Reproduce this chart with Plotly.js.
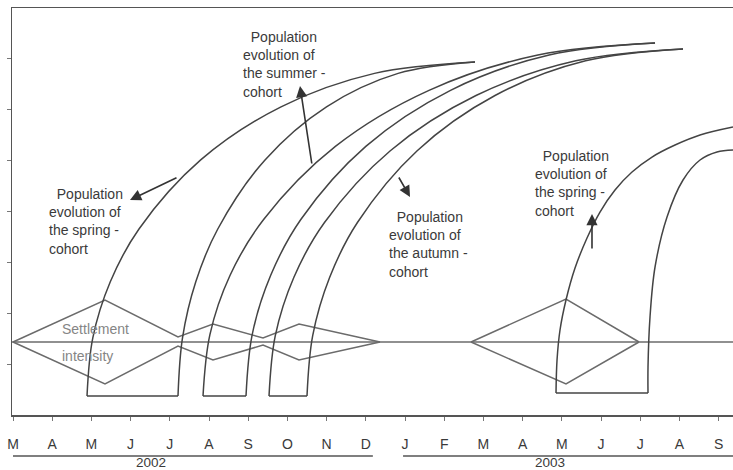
<!DOCTYPE html>
<html>
<head>
<meta charset="utf-8">
<script src="https://cdn.plot.ly/plotly-3.0.1.min.js"></script>
<style>
  html, body { margin: 0; padding: 0; background: #ffffff; }
  #chart { width: 733px; height: 470px; }
</style>
</head>
<body>
<div id="chart"></div>
<script>
// ---- Data (x = months since March 2002, y = relative population / intensity) ----
const monthTickVals = [0,1,2,3,4,5,6,7,8,9,10,11,12,13,14,15,16,17,18];
const monthTickText = ['M','A','M','J','J','A','S','O','N','D','J','F','M','A','M','J','J','A','S'];
const yearLabels = ['2002', '2003'];

// Settlement intensity (upper and mirrored lower outline), 2002
const settle2002X     = [0.00, 2.347, 4.209, 5.102, 6.378, 7.296, 9.362];
const settle2002Upper = [1.435, 2.260, 1.533, 1.789, 1.514, 1.789, 1.435];
const settle2002Lower = [1.435, 0.609, 1.356, 1.081, 1.376, 1.081, 1.435];
// Settlement intensity, 2003
const settle2003X     = [11.684, 14.107, 15.969];
const settle2003Upper = [1.435, 2.280, 1.435];
const settle2003Lower = [1.435, 0.609, 1.435];
// Base line
const baseX = [-0.03, 18.37];
const baseY = [1.435, 1.435];

// Spring cohort 2002
const spring02LeftX  = [1.888, 2.036, 2.482, 3.214, 4.788, 6.837, 9.222, 11.786];
const spring02RightX = [4.209, 4.324, 4.663, 5.224, 6.429, 7.997, 9.824, 11.786];
const spring02Y      = [0.373, 1.515, 2.618, 3.656, 5.014, 6.058, 6.715, 6.939];
// Summer cohort 2002
const summerLeftX  = [4.847, 5.023, 5.538, 6.393, 8.224, 10.612, 13.390, 16.378];
const summerRightX = [5.944, 6.102, 6.574, 7.342, 9.000, 11.161, 13.676, 16.378];
const summerY      = [0.373, 1.580, 2.746, 3.843, 5.280, 6.382, 7.076, 7.312];
// Autumn cohort 2002
const autumnLeftX  = [6.531, 6.691, 7.166, 7.946, 9.625, 11.811, 14.357, 17.092];
const autumnRightX = [7.500, 7.645, 8.079, 8.786, 10.311, 12.296, 14.607, 17.092];
const autumnY      = [0.373, 1.559, 2.707, 3.784, 5.195, 6.280, 6.962, 7.194];
// Spring cohort 2003
const spring03LeftX  = [13.852, 13.878, 13.954, 14.107, 14.337, 14.643, 14.974, 15.357, 15.791, 16.301, 16.888, 17.526, 18.367];
const spring03LeftY  = [0.432, 1.081, 1.671, 2.260, 2.889, 3.479, 3.990, 4.423, 4.776, 5.071, 5.307, 5.504, 5.661];
const spring03RightX = [16.199, 16.199, 16.250, 16.378, 16.684, 17.092, 17.526, 17.959, 18.367];
const spring03RightY = [0.432, 0.943, 1.926, 2.909, 3.892, 4.619, 5.012, 5.170, 5.209];

// Cohort bases (settlement windows)
const cohortBaseX = [[1.888, 4.209], [4.847, 5.944], [6.531, 7.500], [13.852, 16.199]];
const cohortBaseY = [[0.373, 0.373], [0.373, 0.373], [0.373, 0.373], [0.432, 0.432]];

// ---- Styles ----
const arcColor = '#444444';
const diaColor = '#6b6b6b';
const textColor = '#3a3a3a';
const fontFam = 'Liberation Sans, Arial, Helvetica, sans-serif';

const traces = [];
function line(x, y, color, shape, name) {
  traces.push({
    type: 'scatter', mode: 'lines', x: x, y: y, name: name,
    line: {color: color, width: 1.5, shape: shape, smoothing: 1},
    hoverinfo: 'skip', showlegend: false
  });
}
line(baseX, baseY, diaColor, 'linear', 'base');
line(settle2002X, settle2002Upper, diaColor, 'linear', 'settle02u');
line(settle2002X, settle2002Lower, diaColor, 'linear', 'settle02l');
line(settle2003X, settle2003Upper, diaColor, 'linear', 'settle03u');
line(settle2003X, settle2003Lower, diaColor, 'linear', 'settle03l');

line(spring02LeftX, spring02Y, arcColor, 'spline', 'spring02L');
line(spring02RightX, spring02Y, arcColor, 'spline', 'spring02R');
line(summerLeftX, summerY, arcColor, 'spline', 'summerL');
line(summerRightX, summerY, arcColor, 'spline', 'summerR');
line(autumnLeftX, autumnY, arcColor, 'spline', 'autumnL');
line(autumnRightX, autumnY, arcColor, 'spline', 'autumnR');
line(spring03LeftX, spring03LeftY, arcColor, 'spline', 'spring03L');
line(spring03RightX, spring03RightY, arcColor, 'spline', 'spring03R');
for (let i = 0; i < cohortBaseX.length; i++) {
  line(cohortBaseX[i], cohortBaseY[i], arcColor, 'linear', 'base' + i);
}

const yearFont = {family: fontFam, size: 13.5, color: textColor};
function label(x, y, text, color) {
  return {x: x, y: y, xref: 'x', yref: 'y', text: text, showarrow: false,
          xanchor: 'left', yanchor: 'middle', align: 'left',
          font: {family: fontFam, size: 14, color: color || textColor}};
}
function arrow(xh, yh, xt, yt) {
  return {x: xh, y: yh, ax: xt, ay: yt, xref: 'x', yref: 'y', axref: 'x', ayref: 'y',
          text: '', showarrow: true, arrowhead: 2, arrowsize: 1.4, arrowwidth: 1.6,
          arrowcolor: '#333333', standoff: 0, startstandoff: 0};
}
const nb = '\u00a0\u00a0';
const annotations = [
  label(0.867, 3.794, nb + 'Population<br>evolution of<br>the spring -<br>cohort'),
  label(5.816, 6.894, nb + 'Population<br>evolution of<br>the summer -<br>cohort'),
  label(9.541, 3.361, nb + 'Population<br>evolution of<br>the autumn -<br>cohort'),
  label(13.265, 4.560, nb + 'Population<br>evolution of<br>the spring -<br>cohort'),
  label(1.199, 1.690, 'Settlement', '#858585'),
  label(1.199, 1.160, 'intensity', '#858585'),
  arrow(2.985, 4.226, 4.209, 4.678),
  arrow(7.321, 6.467, 7.628, 4.914),
  arrow(10.128, 4.285, 9.821, 4.698),
  arrow(14.770, 3.951, 14.770, 3.243),
  {x: 3.52, y: -0.1155, xref: 'x', yref: 'paper', text: yearLabels[0], showarrow: false,
   xanchor: 'center', yanchor: 'middle', borderpad: 0, font: yearFont},
  {x: 13.70, y: -0.1155, xref: 'x', yref: 'paper', text: yearLabels[1], showarrow: false,
   xanchor: 'center', yanchor: 'middle', borderpad: 0, font: yearFont}
];

const shapes = [
  {type: 'line', xref: 'x', yref: 'paper', x0: 0, x1: 9.18, y0: -0.1007, y1: -0.1007,
   line: {color: '#555555', width: 1.5}},
  {type: 'line', xref: 'x', yref: 'paper', x0: 9.95, x1: 18.37, y0: -0.1007, y1: -0.1007,
   line: {color: '#555555', width: 1.5}}
];

const layout = {
  width: 733, height: 470,
  margin: {l: 12, r: 0, t: 8, b: 55, pad: 0},
  paper_bgcolor: '#ffffff', plot_bgcolor: '#ffffff',
  showlegend: false, hovermode: false,
  xaxis: {
    range: [-0.0255, 18.367], fixedrange: true,
    tickmode: 'array', tickvals: monthTickVals, ticktext: monthTickText,
    ticks: 'outside', ticklen: 4, tickwidth: 1, tickcolor: '#777777',
    ticklabelstandoff: 12,
    tickfont: {family: fontFam, size: 14, color: textColor},
    showgrid: false, zeroline: false,
    showline: true, linecolor: '#555555', linewidth: 1.5, mirror: true
  },
  yaxis: {
    range: [0, 8], fixedrange: true,
    tickmode: 'array', tickvals: [1,2,3,4,5,6,7],
    ticks: 'outside', ticklen: 4, tickwidth: 1, tickcolor: '#777777',
    showticklabels: false, showgrid: false, zeroline: false,
    showline: true, linecolor: '#555555', linewidth: 1.5, mirror: false
  },
  annotations: annotations,
  shapes: shapes,
  font: {family: fontFam, color: textColor}
};

Plotly.newPlot('chart', traces, layout, {displayModeBar: false, staticPlot: true});
</script>
</body>
</html>
